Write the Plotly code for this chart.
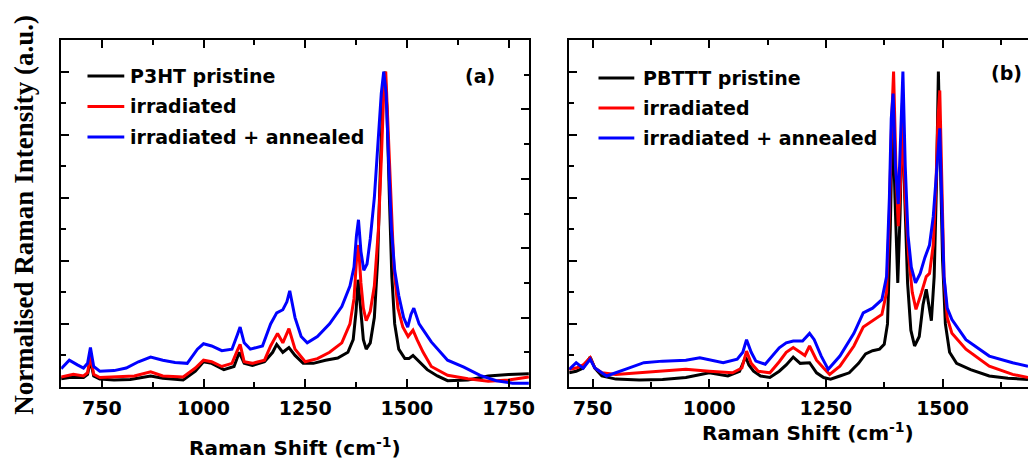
import plotly.graph_objects as go

W, H = 1034, 463

# ---------------- Panel (a): P3HT ----------------
a_black_x = [650, 670, 690, 705, 715, 722, 730, 745, 780, 820, 870, 900, 950, 980, 1000, 1020, 1050, 1075, 1088,
             1100, 1120, 1150, 1170, 1180, 1195, 1210, 1225, 1245, 1270, 1300, 1330, 1355, 1368, 1375, 1380, 1386,
             1393, 1400, 1410, 1420, 1428, 1435, 1441, 1446, 1451, 1457, 1463, 1470, 1480, 1495, 1505, 1515, 1530,
             1550, 1575, 1600, 1650, 1700, 1750, 1800]
a_black_y = [0.026, 0.03, 0.03, 0.03, 0.04, 0.085, 0.035, 0.025, 0.022, 0.024, 0.035, 0.028, 0.022, 0.05, 0.08,
             0.075, 0.055, 0.065, 0.11, 0.075, 0.068, 0.08, 0.11, 0.135, 0.11, 0.125, 0.1, 0.075, 0.075, 0.085,
             0.092, 0.11, 0.15, 0.24, 0.34, 0.25, 0.15, 0.12, 0.14, 0.22, 0.4, 0.7, 0.93, 1.0, 0.88, 0.6, 0.35,
             0.2, 0.12, 0.09, 0.09, 0.1, 0.08, 0.055, 0.035, 0.02, 0.022, 0.035, 0.04, 0.042]

a_red_x = [650, 680, 705, 715, 722, 730, 745, 780, 830, 870, 900, 950, 980, 1000, 1020, 1045, 1070, 1083, 1090,
           1100, 1120, 1150, 1165, 1182, 1195, 1210, 1225, 1250, 1280, 1310, 1340, 1360, 1370, 1376, 1381, 1387,
           1393, 1400, 1410, 1420, 1430, 1438, 1443, 1448, 1453, 1460, 1468, 1478, 1490, 1503, 1515, 1525, 1540,
           1560, 1600, 1650, 1700, 1750, 1800]
a_red_y = [0.032, 0.04, 0.035, 0.045, 0.1, 0.04, 0.03, 0.032, 0.035, 0.048, 0.035, 0.032, 0.06, 0.085, 0.08,
           0.065, 0.075, 0.115, 0.135, 0.08, 0.075, 0.085, 0.13, 0.17, 0.14, 0.185, 0.12, 0.08, 0.09, 0.11, 0.14,
           0.2, 0.28, 0.4, 0.45, 0.33, 0.25, 0.21, 0.24, 0.32, 0.5, 0.75, 0.93, 1.0, 0.85, 0.59, 0.38, 0.25, 0.19,
           0.16, 0.18, 0.15, 0.11, 0.065, 0.037, 0.026, 0.018, 0.022, 0.032]

a_blue_x = [650, 670, 690, 705, 715, 722, 730, 745, 780, 810, 840, 870, 900, 930, 960, 985, 1000, 1020, 1045,
            1070, 1083, 1090, 1100, 1115, 1145, 1165, 1180, 1195, 1205, 1212, 1225, 1240, 1255, 1280, 1310, 1340,
            1360, 1370, 1376, 1381, 1387, 1394, 1402, 1410, 1420, 1430, 1437, 1443, 1449, 1455, 1462, 1470, 1480,
            1492, 1502, 1510, 1517, 1530, 1560, 1600, 1640, 1680, 1720, 1760, 1800]
a_blue_y = [0.058, 0.085, 0.07, 0.06, 0.075, 0.125, 0.065, 0.05, 0.052, 0.06, 0.08, 0.095, 0.085, 0.078, 0.075,
            0.12, 0.137, 0.13, 0.115, 0.12, 0.165, 0.19, 0.14, 0.12, 0.13, 0.2, 0.235, 0.245, 0.27, 0.305, 0.22,
            0.16, 0.14, 0.16, 0.2, 0.255, 0.32, 0.38, 0.48, 0.53, 0.43, 0.37, 0.39, 0.47, 0.6, 0.78, 0.93, 1.0,
            0.93, 0.72, 0.5, 0.37, 0.29, 0.22, 0.19, 0.23, 0.25, 0.2, 0.143, 0.085, 0.063, 0.037, 0.02, 0.012, 0.012]

# ---------------- Panel (b): PBTTT ----------------
b_black_x = [700, 715, 730, 745, 755, 770, 800, 850, 900, 950, 1000, 1040, 1065, 1078, 1085, 1095, 1110, 1130,
             1150, 1165, 1180, 1195, 1215, 1230, 1245, 1260, 1280, 1300, 1320, 1335, 1350, 1365, 1375, 1382, 1388,
             1393, 1398, 1404, 1409, 1414, 1419, 1425, 1432, 1440, 1450, 1458, 1465, 1470, 1476, 1482, 1487, 1491,
             1495, 1500, 1506, 1515, 1530, 1560, 1600, 1640, 1683]
b_black_y = [0.045, 0.05, 0.06, 0.095, 0.06, 0.035, 0.025, 0.022, 0.024, 0.03, 0.045, 0.035, 0.05, 0.095, 0.07,
             0.05, 0.035, 0.03, 0.05, 0.07, 0.095, 0.075, 0.077, 0.045, 0.03, 0.025, 0.035, 0.045, 0.075, 0.105,
             0.115, 0.12, 0.135, 0.2, 0.5, 0.88, 0.6, 0.33, 0.55, 0.9, 0.6, 0.33, 0.18, 0.13, 0.16, 0.26, 0.31,
             0.27, 0.21, 0.35, 0.65, 1.0, 0.75, 0.4, 0.2, 0.11, 0.075, 0.055, 0.035, 0.028, 0.024]

b_red_x = [700, 715, 730, 745, 755, 770, 800, 850, 900, 950, 1000, 1050, 1070, 1080, 1090, 1105, 1130, 1150, 1165,
           1180, 1195, 1205, 1215, 1230, 1245, 1258, 1280, 1310, 1330, 1350, 1370, 1380, 1386, 1391, 1395, 1400,
           1405, 1410, 1415, 1420, 1427, 1435, 1443, 1455, 1465, 1472, 1480, 1486, 1490, 1494, 1498, 1503, 1510,
           1520, 1550, 1600, 1650, 1683]
b_red_y = [0.056, 0.06, 0.07, 0.093, 0.06, 0.045, 0.04, 0.045, 0.05, 0.056, 0.05, 0.045, 0.06, 0.114, 0.075, 0.05,
           0.045, 0.08, 0.11, 0.125, 0.11, 0.1, 0.13, 0.085, 0.06, 0.04, 0.066, 0.13, 0.19, 0.21, 0.23, 0.3, 0.55,
           0.85, 1.0, 0.7, 0.51, 0.65, 0.85, 0.6, 0.42, 0.3, 0.246, 0.3, 0.35, 0.36, 0.45, 0.65, 0.85, 0.94, 0.7,
           0.35, 0.22, 0.17, 0.12, 0.066, 0.04, 0.03]

b_blue_x = [700, 715, 730, 745, 755, 780, 820, 860, 900, 950, 980, 1030, 1060, 1072, 1080, 1090, 1100, 1120, 1150,
            1165, 1180, 1200, 1215, 1225, 1240, 1255, 1280, 1310, 1330, 1350, 1370, 1380, 1386, 1390, 1394, 1399,
            1405, 1410, 1415, 1420, 1426, 1433, 1442, 1452, 1462, 1472, 1480, 1486, 1490, 1494, 1498, 1503, 1510,
            1520, 1550, 1600, 1650, 1683]
b_blue_y = [0.056, 0.077, 0.06, 0.088, 0.06, 0.035, 0.056, 0.077, 0.082, 0.085, 0.093, 0.077, 0.088, 0.11, 0.15,
            0.11, 0.082, 0.072, 0.124, 0.14, 0.146, 0.146, 0.17, 0.15, 0.098, 0.056, 0.098, 0.17, 0.235, 0.25,
            0.277, 0.35, 0.6, 0.85, 0.93, 0.7, 0.58, 0.8, 1.0, 0.7, 0.48, 0.38, 0.33, 0.36, 0.41, 0.45, 0.54, 0.66,
            0.76, 0.82, 0.6, 0.35, 0.25, 0.214, 0.15, 0.098, 0.077, 0.066]

a_labels = ["P3HT pristine", "irradiated", "irradiated + annealed"]
b_labels = ["PBTTT pristine", "irradiated", "irradiated + annealed"]
colors = ["#000000", "#ff0000", "#0000ff"]
x_tickvals = [750, 1000, 1250, 1500, 1750]
x_ticktext = ["750", "1000", "1250", "1500", "1750"]
x_title = "Raman Shift (cm<sup>-1</sup>)"
y_title = "Normalised Raman Intensity (a.u.)"

SANS = "DejaVu Sans"
SERIF = "Liberation Serif"


def px(x):
    return x / W


def py(y):
    return 1 - y / H


fig = go.Figure()
for xs, ys, c in zip([a_black_x, a_red_x, a_blue_x], [a_black_y, a_red_y, a_blue_y], colors):
    fig.add_trace(go.Scatter(x=xs, y=ys, mode="lines", line=dict(color=c, width=3),
                             xaxis="x", yaxis="y", showlegend=False, hoverinfo="skip"))
for xs, ys, c in zip([b_black_x, b_red_x, b_blue_x], [b_black_y, b_red_y, b_blue_y], colors):
    fig.add_trace(go.Scatter(x=xs, y=ys, mode="lines", line=dict(color=c, width=3),
                             xaxis="x2", yaxis="y2", showlegend=False, hoverinfo="skip"))
# empty trace to host panel (a)'s right-hand axis
fig.add_trace(go.Scatter(x=[], y=[], xaxis="x", yaxis="y3", showlegend=False, hoverinfo="skip"))

tickfont = dict(family=SANS, size=19, color="black", weight="bold")
ydom = [py(387), py(40)]

xcommon = dict(showline=True, linewidth=2, linecolor="black", mirror="ticks", ticks="inside",
               ticklen=8, tickwidth=2, tickcolor="black", showgrid=False, zeroline=False,
               tickvals=x_tickvals, ticktext=x_ticktext, tickfont=tickfont, ticklabelstandoff=3,
               minor=dict(dtick=125, tick0=750, ticks="inside", ticklen=5, tickwidth=2, tickcolor="black"))
ycommon = dict(showline=True, linewidth=2, linecolor="black", ticks="inside", ticklen=8, tickwidth=2,
               tickcolor="black", showgrid=False, zeroline=False, showticklabels=False,
               dtick=0.2, tick0=0, minor=dict(dtick=0.1, ticks="inside", ticklen=5, tickwidth=2,
                                              tickcolor="black"))

fig.update_layout(
    width=W, height=H, margin=dict(l=0, r=0, t=0, b=0),
    paper_bgcolor="white", plot_bgcolor="white", showlegend=False,
    xaxis=dict(domain=[px(61.5), px(532)], range=[650, 1800], anchor="y", **xcommon),
    yaxis=dict(domain=ydom, range=[0, 1.1], anchor="x", mirror=False, **ycommon),
    yaxis3=dict(domain=ydom, range=[0, 1.0], overlaying="y", side="right", anchor="x",
                mirror=False, **ycommon),
    xaxis2=dict(domain=[px(572.5), 1.0], range=[700, 1683], anchor="y2", **xcommon),
    yaxis2=dict(domain=ydom, range=[0, 1.1], anchor="x2", mirror=False, **ycommon),
)

ann = []
shapes = []
legfont = dict(family=SANS, size=19, color="black", weight="bold")
for labels, x0, x1, xt, rows in [(a_labels, 88, 125, 129, [76, 106.5, 137]),
                                  (b_labels, 602, 638, 645, [78, 108, 138])]:
    for lab, c, yy in zip(labels, colors, rows):
        shapes.append(dict(type="line", xref="paper", yref="paper", x0=px(x0), x1=px(x1),
                           y0=py(yy), y1=py(yy), line=dict(color=c, width=3)))
        ann.append(dict(text=lab, xref="paper", yref="paper", x=px(xt), y=py(yy), xanchor="left",
                        yanchor="middle", showarrow=False, font=legfont))

ann.append(dict(text="(a)", xref="paper", yref="paper", x=px(483), y=py(76), showarrow=False,
                xanchor="center", yanchor="middle", font=legfont))
ann.append(dict(text="(b)", xref="paper", yref="paper", x=px(1012), y=py(73), showarrow=False,
                xanchor="center", yanchor="middle", font=legfont))
titlefont = dict(family=SANS, size=20, color="black", weight="bold")
ann.append(dict(text=x_title, xref="paper", yref="paper", x=px(297), y=py(447), showarrow=False,
                xanchor="center", yanchor="middle", font=titlefont))
ann.append(dict(text=x_title, xref="paper", yref="paper", x=px(813), y=py(432), showarrow=False,
                xanchor="center", yanchor="middle", font=titlefont))
ann.append(dict(text=y_title, xref="paper", yref="paper", x=px(24), y=py(215), showarrow=False,
                textangle=-90, xanchor="center", yanchor="middle",
                font=dict(family=SERIF, size=27, color="black", weight="bold")))

fig.update_layout(annotations=ann, shapes=shapes)
fig.write_html("out.html", config={"displayModeBar": False},
               post_script="document.body.style.margin='0px';document.body.style.overflow='hidden';")
